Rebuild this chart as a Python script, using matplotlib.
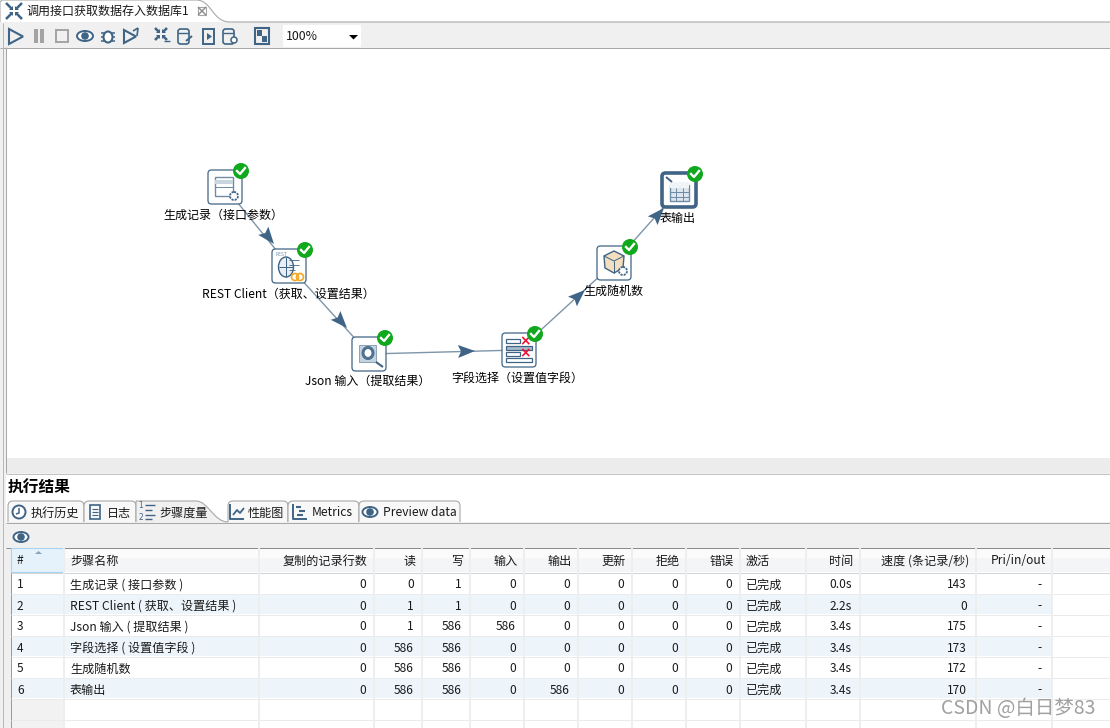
#! /usr/bin/env python
# Kettle transformation window: step graph on top, step metrics table below
import numpy as np
import matplotlib
matplotlib.use('Agg')
import matplotlib.pyplot as plt
from matplotlib.patches import Rectangle, FancyBboxPatch, Circle, Ellipse, Polygon, PathPatch
from matplotlib.path import Path

plt.rcParams['font.family'] = ['Noto Sans CJK SC', 'DejaVu Sans']

# step graph
step_labels = ['生成记录（接口参数）', 'REST Client（获取、设置结果）', 'Json 输入（提取结果）',
               '字段选择（设置值字段）', '生成随机数', '表输出']
node_x = [225, 289, 369, 519, 614, 679]
node_y = [187, 266, 354, 350, 263, 190]
label_x = [223, 288, 368, 517, 613, 678]
label_y = [215, 294, 381, 378, 291, 218]
# where each arrow head tip sits on its hop
tip_x = [274, 347, 475, 585, 664]
tip_y = [244, 328, 351, 290, 208]

# metrics table
headers = ['#', '步骤名称', '复制的记录行数', '读', '写', '输入', '输出', '更新', '拒绝', '错误',
           '激活', '时间', '速度 (条记录/秒)', 'Pri/in/out']
row_nums = ['1', '2', '3', '4', '5', '6']
names = ['生成记录（接口参数）', 'REST Client（获取、设置结果）', 'Json 输入（提取结果）',
         '字段选择（设置值字段）', '生成随机数', '表输出']
copies = [0, 0, 0, 0, 0, 0]
read = [0, 1, 1, 586, 586, 586]
written = [1, 1, 586, 586, 586, 586]
inputs = [0, 0, 586, 0, 0, 0]
outputs = [0, 0, 0, 0, 0, 586]
updated = [0, 0, 0, 0, 0, 0]
rejected = [0, 0, 0, 0, 0, 0]
errors = [0, 0, 0, 0, 0, 0]
status = ['已完成'] * 6
times = ['0.0s', '2.2s', '3.4s', '3.4s', '3.4s', '3.4s']
speed = [143, 0, 175, 173, 172, 170]
pri = ['-'] * 6

col_edges = [11, 64, 259, 374, 422, 470, 524, 578, 632, 686, 740, 806, 860, 976, 1052, 1110]
tab_labels = ['执行历史', '日志', '步骤度量', '性能图', 'Metrics', 'Preview data']

BLUE = '#3f6485'
TEXT = '#1a1a1a'

fig = plt.figure(figsize=(11.10, 7.28), dpi=100)
ax = fig.add_axes([0, 0, 1, 1])
ax.set_xlim(0, 1110)
ax.set_ylim(728, 0)
ax.axis('off')


def rect(x0, y0, x1, y1, fc='none', ec='none', lw=0.72, z=1):
    ax.add_patch(Rectangle((x0, y0), x1-x0, y1-y0, fc=fc, ec=ec, lw=lw, zorder=z))


def line(xs, ys, c=BLUE, lw=0.72, z=2):
    ax.plot(xs, ys, color=c, lw=lw, zorder=z, solid_capstyle='butt')


def text(x, y, s, size=8.7, ha='left', c=TEXT, **kw):
    ax.text(x, y, s, fontsize=size, ha=ha, va='center', color=c, zorder=8, **kw)


def eye(cx, cy, w=16, h=10):
    ax.add_patch(Ellipse((cx, cy), w, h, fc='white', ec=BLUE, lw=1.4, zorder=5))
    ax.add_patch(Circle((cx, cy), h*0.38, fc=BLUE, ec='none', zorder=6))


def gear(cx, cy, r=4):
    ax.add_patch(Circle((cx, cy), r, fc='white', ec=BLUE, lw=1.3, ls=(0, (1.2, 0.6)), zorder=6))


def play(x, y, w=14, h=15):
    ax.add_patch(Polygon([(x, y), (x+w, y+h/2), (x, y+h)], fc='none', ec=BLUE, lw=1.5, zorder=5))


def cross_in(cx, cy, s=7):
    # the four inward arrows of the transformation icon
    for dx, dy in [(-1, -1), (1, -1), (-1, 1), (1, 1)]:
        line([cx+dx*s, cx+dx*2], [cy+dy*s, cy+dy*2], lw=1.8, z=5)
        ax.add_patch(Polygon([(cx+dx*1, cy+dy*1), (cx+dx*5, cy+dy*1), (cx+dx*1, cy+dy*5)],
                             fc=BLUE, ec='none', zorder=5))


def db(x, y):
    ax.add_patch(FancyBboxPatch((x, y), 11, 15, boxstyle='round,pad=0,rounding_size=2.5',
                                fc='none', ec=BLUE, lw=1.2, zorder=5))
    line([x, x+11], [y+4, y+4], lw=1, z=5)


def tab_shape(x0, x1, y0=501, y1=522, r=5):
    verts = [(x0, y1), (x0, y0+r), (x0, y0), (x0+r, y0), (x1-r, y0), (x1, y0), (x1, y0+r), (x1, y1)]
    codes = [Path.MOVETO, Path.LINETO, Path.CURVE3, Path.CURVE3, Path.LINETO, Path.CURVE3, Path.CURVE3, Path.LINETO]
    ax.add_patch(PathPatch(Path(verts, codes), fc='#f8f8f8', ec='#a8a8a8', lw=0.8, zorder=2))


# window backgrounds
rect(0, 0, 1110, 728, fc='#f0f0f0')
rect(0, 0, 1110, 22, fc='white')
path = Path([(0, 22), (0, 2), (2, 0), (196, 0), (212, 0), (212, 22), (230, 22), (1110, 22)],
            [Path.MOVETO, Path.LINETO, Path.LINETO, Path.LINETO, Path.CURVE4, Path.CURVE4, Path.CURVE4, Path.LINETO])
ax.add_patch(PathPatch(path, fc='white', ec='#a9a9a9', lw=0.8, zorder=2))
cross_in(14, 11, 8)
text(26, 11, '调用接口获取数据存入数据库1', size=8.65)
# close button of the tab
rect(198, 7, 206, 15, ec='#a5a5a5', lw=0.8, z=5)
line([198, 206], [7, 15], c='#8a8a8a', lw=1.0, z=6)
line([198, 206], [15, 7], c='#8a8a8a', lw=1.0, z=6)

# toolbar
rect(0, 23, 1110, 47, fc='#f0f0f0')
play(9, 29)
rect(34, 29, 38, 43, fc='#a3a3a3')
rect(40, 29, 44, 43, fc='#a3a3a3')
rect(56, 30, 68, 42, ec='#a3a3a3', lw=1.4)
eye(85, 36)
ax.add_patch(Ellipse((108, 37), 9, 11, fc='white', ec=BLUE, lw=1.5, zorder=5))
for dy in (-4, 0, 4):
    line([101, 115], [37+dy, 37+dy], lw=1.1)
play(124, 30, 12, 13)
line([133, 138], [31, 28], lw=1.2, z=5)
line([138, 137], [28, 36], lw=1.2, z=5)
cross_in(161, 34, 6)
line([164, 170], [41, 41], lw=1, z=5)
db(178, 29)
line([186, 192], [41, 36], lw=1.4, z=6)
rect(203, 29, 214, 44, ec=BLUE, lw=1.4, z=5)
ax.add_patch(Polygon([(207, 33), (212, 36.5), (207, 40)], fc=BLUE, zorder=6))
db(223, 29)
ax.add_patch(Circle((234, 40), 3, fc='white', ec=BLUE, lw=1.1, zorder=6))
rect(255, 28, 269, 44, ec=BLUE, lw=1.5, z=5)
rect(257, 30, 262, 36, fc=BLUE, z=5)
rect(262, 36, 267, 42, fc=BLUE, z=5)
rect(283, 25, 361, 47, fc='white')
text(286, 36, '100%', size=8.9)
ax.add_patch(Polygon([(349, 35), (358, 35), (353.5, 39.5)], fc='black', zorder=6))
line([0, 1110], [47.5, 47.5], c='#a8a8a8')

# graph canvas
rect(6, 48, 1110, 458, fc='white', z=1)
line([5.5, 5.5], [47, 473], c='#a8a8a8')
line([2.5, 2.5], [23, 728], c='#b8b8b8')
rect(6, 458, 1110, 473, fc='#ececec', z=1)
line([6, 1110], [473.5, 473.5], c='#c4c4c4')

# hops and arrow heads
for i in range(5):
    line([node_x[i], node_x[i+1]], [node_y[i], node_y[i+1]], c='#7f95a9', lw=1.0, z=3)
    d = np.array([node_x[i+1]-node_x[i], node_y[i+1]-node_y[i]], dtype=float)
    d = d/np.hypot(*d)
    n = np.array([-d[1], d[0]])
    tip = np.array([tip_x[i], tip_y[i]], dtype=float)
    head = [tip, tip-d*17+n*6.5, tip-d*14, tip-d*17-n*6.5]
    ax.add_patch(Polygon(head, fc=BLUE, ec='none', zorder=4))

# step boxes
for i in range(6):
    lw = 2.6 if i == 5 else 0.9
    ax.add_patch(FancyBboxPatch((node_x[i]-17, node_y[i]-17), 34, 34,
                                boxstyle='round,pad=0,rounding_size=3.5',
                                fc='white', ec=BLUE, lw=lw, zorder=5))
    text(label_x[i], label_y[i], step_labels[i], size=8.65, ha='center', c='black')

# step icons
x, y = node_x[0], node_y[0]
rect(x-10, y-10, x+8, y+9, ec='#6f8ca6', lw=1, z=6)
rect(x-10, y-7, x+8, y-3, fc='#c9d6e0', z=6)
line([x-10, x+8], [y, y], c='#6f8ca6', z=6)
gear(x+9, y+9)
x, y = node_x[1], node_y[1]
text(x-14, y-11, 'REST', size=3.5, c='#6f8ca6')
ax.add_patch(Ellipse((x-3, y+1), 15, 20, fc='#e8eef3', ec=BLUE, lw=1, zorder=6))
line([x-3, x-3], [y-9, y+11], z=7)
line([x-10, x+4], [y+1, y+1], z=7)
for dy, ln in [(-6, 10), (-1, 10), (4, 6)]:
    line([x, x+ln], [y+dy, y+dy], lw=0.6, z=7)
ax.add_patch(Circle((x+6, y+11), 3.5, fc='none', ec='#f5a623', lw=1.2, zorder=7))
ax.add_patch(Circle((x+11, y+11), 3.5, fc='none', ec='#f5a623', lw=1.2, zorder=7))
x, y = node_x[2], node_y[2]
rect(x-10, y-9, x+7, y+8, fc='#c5d3de', ec='#8da4b8', z=6)
ax.add_patch(Ellipse((x-1, y-1), 10, 11, fc='white', ec='#50718f', lw=2.2, zorder=7))
line([x+7, x+14], [y+8, y+13], lw=1.5, z=7)
x, y = node_x[3], node_y[3]
for dy, wd, f in [(-11, 14, 'white'), (-4, 26, '#a9bccb'), (2, 14, 'white'), (8, 26, 'white')]:
    rect(x-13, y+dy, x-13+wd, y+dy+4, fc=f, ec=BLUE, lw=0.9, z=6)
ax.text(x+6, y-9, '×', fontsize=10, ha='center', va='center', color='#ee1133', fontweight='bold',
        family='DejaVu Sans', zorder=8)
ax.text(x+6, y+3, '×', fontsize=10, ha='center', va='center', color='#ee1133', fontweight='bold',
        family='DejaVu Sans', zorder=8)
x, y = node_x[4], node_y[4]
ax.add_patch(Polygon([(x, y-12), (x+10, y-7), (x+9, y+5), (x, y+10), (x-9, y+5), (x-10, y-7)],
                     fc='#f3dfc0', ec=BLUE, lw=1, zorder=6))
line([x-10, x, x+10], [y-7, y-2, y-7], z=7)
line([x, x], [y-2, y+10], z=7)
gear(x+9, y+8)
x, y = node_x[5], node_y[5]
rect(x-9, y-5, x+10, y+11, fc='#dde6ee', ec='#6f8ca6', lw=1, z=6)
rect(x-9, y-8, x+10, y-2, fc='#f0f4f7', z=6)
for dx in (-3, 4):
    line([x+dx, x+dx], [y-2, y+11], c='#6f8ca6', z=7)
for dy in (2, 7):
    line([x-9, x+10], [y+dy, y+dy], c='#6f8ca6', z=7)
line([x-13, x-7], [y-13, y-8], lw=1.4, z=7)

# finished ticks
for i in range(6):
    cx, cy = node_x[i]+16, node_y[i]-16
    ax.add_patch(Circle((cx, cy), 8, fc='#10a81c', ec='none', zorder=9))
    ax.plot([cx-4, cx-1, cx+4], [cy, cy+3, cy-3], color='white', lw=1.7, zorder=10)

# lower pane
rect(6, 474, 1110, 500, fc='white')
text(8, 488, '执行结果', size=11.3, fontweight='bold', c='black')
rect(6, 500, 1110, 522, fc='white')
line([6, 1110], [522.5, 522.5], c='#a8a8a8')
tab_edges = [8, 84, 136, 228, 288, 359, 460]
tab_text_x = [31, 107, 159, 248, 312, 383]
for i in range(6):
    if i == 2:
        continue
    tab_shape(tab_edges[i], tab_edges[i+1])
    text(tab_text_x[i], 513, tab_labels[i], size=8.7)
path = Path([(136, 522), (136, 501), (196, 501), (208, 501), (214, 522), (228, 522)],
            [Path.MOVETO, Path.LINETO, Path.LINETO, Path.CURVE4, Path.CURVE4, Path.CURVE4])
ax.add_patch(PathPatch(path, fc='#f0f0f0', ec='#a8a8a8', lw=0.8, zorder=3))
text(tab_text_x[2], 513, tab_labels[2], size=8.7)

# tab icons
ax.add_patch(Circle((19, 512), 6.5, fc='white', ec=BLUE, lw=1.4, zorder=5))
line([19, 19, 16], [508, 513, 514], lw=1.1, z=6)
rect(90, 505, 100, 519, ec=BLUE, lw=1.2, z=5)
for dy in (509, 512, 515):
    line([92, 98], [dy, dy], lw=0.8, z=5)
for dy, t in [(506, '1'), (517, '2')]:
    ax.text(141, dy, t, fontsize=5.5, ha='center', va='center', color=BLUE, family='DejaVu Sans', zorder=6)
for dy, ln in [(505, 10), (510, 7), (515, 10), (519, 7)]:
    line([145, 145+ln], [dy, dy], lw=1.0, z=5)
line([230, 230, 244], [504, 519, 519], lw=1.4, z=5)
line([233, 237, 240, 244], [515, 510, 513, 508], lw=1.3, z=5)
line([293, 293, 307], [504, 519, 519], lw=1.4, z=5)
for dy, x0, x1 in [(507, 296, 301), (511, 299, 305), (515, 297, 303)]:
    line([x0, x1], [dy, dy], lw=1.5, z=5)
eye(370, 512, 15, 10)

# table toolbar
eye(21, 537, 15, 10)
line([6, 1110], [547.5, 547.5], c='#8c8c8c')

# metrics table
rect(11, 548, 1110, 728, fc='white')
line([10.5, 10.5], [548, 728], c='#9a9a9a')
rect(11, 548, 1110, 572, fc='#fbfbfb')
rect(11, 558, 1110, 572, fc='#f4f5f6')
rect(11, 548, 64, 572, fc='#e6f2fb', ec='#a8d4f2', lw=0.8, z=2)
ax.add_patch(Polygon([(35, 554), (38.5, 551), (42, 554)], fc='#8aa4ba', ec='none', zorder=3))
line([11, 1110], [572.5, 572.5], c='#d4d4d4')

row_h = 21
row_top = 573
columns = [copies, read, written, inputs, outputs, updated, rejected, errors]
n_rows = len(row_nums)
for r in range(n_rows):
    y0 = row_top+r*row_h
    if r % 2 == 1:
        rect(64, y0, 1052, y0+row_h-1, fc='#edf5fb')
        rect(11, y0, 64, y0+row_h-1, fc='#edf5fb')
for r in range(n_rows+2):
    y1 = row_top+r*row_h+row_h-0.5
    line([11, 1110], [y1, y1], c='#ebebeb', z=2)
rect(11, row_top+n_rows*row_h, 64, 728, fc='#f2f2f2')
for e in col_edges[1:-1]:
    line([e-0.5, e-0.5], [548, 728], c='#eeeeee', lw=1.4, z=2)
for j, h in enumerate(headers):
    x0, x1 = col_edges[j], col_edges[j+1]
    if j in (0, 1, 10):
        text(x0+6, 561, h, size=8.7)
    else:
        text(x1-6.5, 561, h, size=8.7, ha='right')

for r in range(n_rows):
    yc = row_top+r*row_h+12
    text(col_edges[0]+6, yc, row_nums[r], size=8.6)
    text(col_edges[1]+6, yc, names[r].replace('（', ' ( ').replace('）', ' )'), size=8.7)
    for j, col in enumerate(columns):
        text(col_edges[j+3]-8, yc, str(col[r]), size=8.6, ha='right')
    text(col_edges[10]+6, yc, status[r], size=8.7)
    text(col_edges[12]-8, yc, times[r], size=8.6, ha='right')
    text(col_edges[13]-9, yc, str(speed[r]), size=8.6, ha='right')
    text(col_edges[14]-10, yc, pri[r], size=8.6, ha='right')

# watermark
ax.text(1095, 709, 'CSDN @白日梦83', fontsize=14, ha='right', va='center', color='#a0a0a0', zorder=9)

fig.savefig('out.png', dpi=100)
